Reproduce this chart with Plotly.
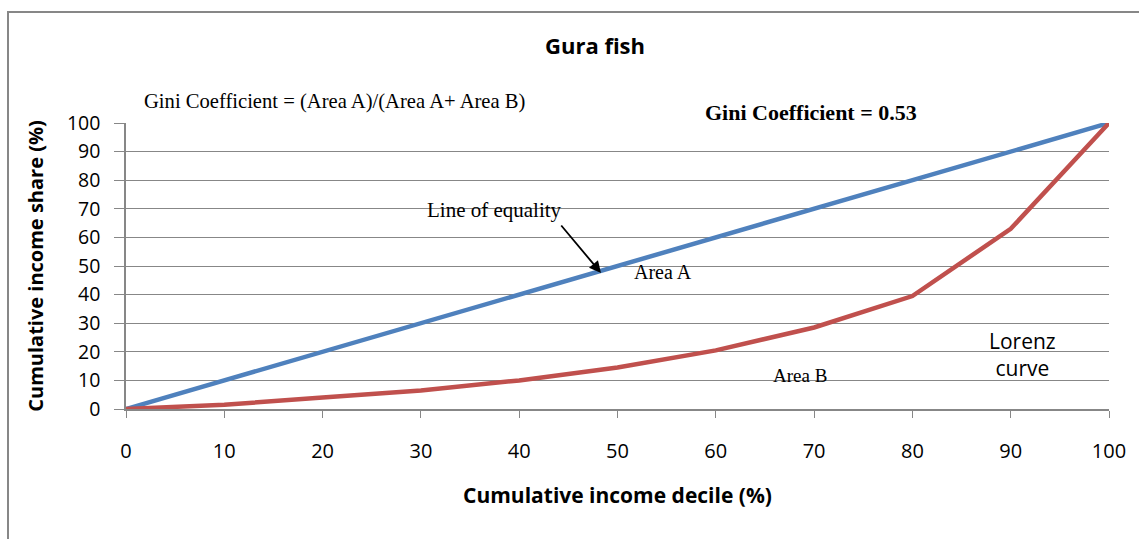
import plotly.graph_objects as go

deciles = [0, 10, 20, 30, 40, 50, 60, 70, 80, 90, 100]
equality = [0, 10, 20, 30, 40, 50, 60, 70, 80, 90, 100]
lorenz = [0, 1.5, 4, 6.5, 10, 14.5, 20.5, 28.5, 39.5, 63, 100]
tick_vals = [0, 10, 20, 30, 40, 50, 60, 70, 80, 90, 100]

W, H = 1139, 539
L, R, T, B = 126, 30, 123, 130
pw, ph = W - L - R, H - T - B

def px(xp):
    return (xp - L) / pw

def py(yp):
    return (H - B - yp) / ph

fig = go.Figure()
fig.add_trace(go.Scatter(x=deciles, y=equality, mode="lines",
                         line=dict(color="#4F81BD", width=4.5), showlegend=False, cliponaxis=False))
fig.add_trace(go.Scatter(x=deciles, y=lorenz, mode="lines",
                         line=dict(color="#C0504D", width=4.5), showlegend=False, cliponaxis=False))

sans = "Open Sans, DejaVu Sans"
fig.update_layout(
    width=W, height=H,
    margin=dict(l=L, r=R, t=T, b=B),
    paper_bgcolor="white", plot_bgcolor="white",
    title=dict(text="<b>Gura fish</b>", xref="container", x=595 / W, xanchor="center",
               yref="container", y=1 - 46 / H, yanchor="middle",
               font=dict(family=sans, size=22, color="#000")),
    xaxis=dict(range=[0, 100], tickvals=tick_vals, ticks="outside", ticklen=7, tickcolor="#878787",
               showline=True, linecolor="#878787", linewidth=1.5, showgrid=False, zeroline=False,
               tickfont=dict(family=sans, size=20, color="#000"), ticklabelstandoff=16,
               title=dict(text="<b>Cumulative income decile (%)</b>",
                          font=dict(family=sans, size=21, color="#000"), standoff=26)),
    yaxis=dict(range=[0, 100], tickvals=tick_vals, ticks="outside", ticklen=10, tickcolor="#878787",
               showline=True, linecolor="#878787", linewidth=1.5, showgrid=True, gridcolor="#878787",
               gridwidth=1.2, zeroline=False, tickfont=dict(family=sans, size=19.5, color="#000"),
               ticklabelstandoff=10,
               title=dict(text="<b>Cumulative income share (%)</b>",
                          font=dict(family=sans, size=20, color="#000"), standoff=18)),
)

# outer frame
fig.add_shape(type="rect", xref="paper", yref="paper",
              x0=px(8), x1=px(1150), y0=py(560), y1=py(12),
              line=dict(color="#878787", width=2), layer="below")

serif = "Liberation Serif, Times New Roman, serif"
anns = [
    dict(text="Gini Coefficient = (Area A)/(Area A+ Area B)", x=px(142), y=py(101), xanchor="left",
         font=dict(family=serif, size=20.6, color="#000")),
    dict(text="<b>Gini Coefficient = 0.53</b>", x=px(703), y=py(113), xanchor="left",
         font=dict(family=serif, size=22, color="#000")),
    dict(text="Line of equality", x=px(425), y=py(210), xanchor="left",
         font=dict(family=serif, size=21, color="#000")),
    dict(text="Area A", x=px(632), y=py(272), xanchor="left",
         font=dict(family=serif, size=20, color="#000")),
    dict(text="Area B", x=px(771), y=py(375), xanchor="left",
         font=dict(family=serif, size=19, color="#000")),
    dict(text="Lorenz<br>curve", x=px(1022), y=py(354), xanchor="center",
         font=dict(family=sans, size=21, color="#000")),
]
for a in anns:
    fig.add_annotation(xref="paper", yref="paper", yanchor="middle", showarrow=False, align="center", **a)

fig.add_annotation(xref="paper", yref="paper", x=px(601), y=py(273), ax=560 - 601, ay=224 - 273,
                   axref="pixel", ayref="pixel", text="", showarrow=True, arrowhead=2,
                   arrowsize=1.3, arrowwidth=1.8, arrowcolor="#000")

fig.write_html("out.html", config={"displayModeBar": False},
               post_script="document.body.style.margin='0';")
